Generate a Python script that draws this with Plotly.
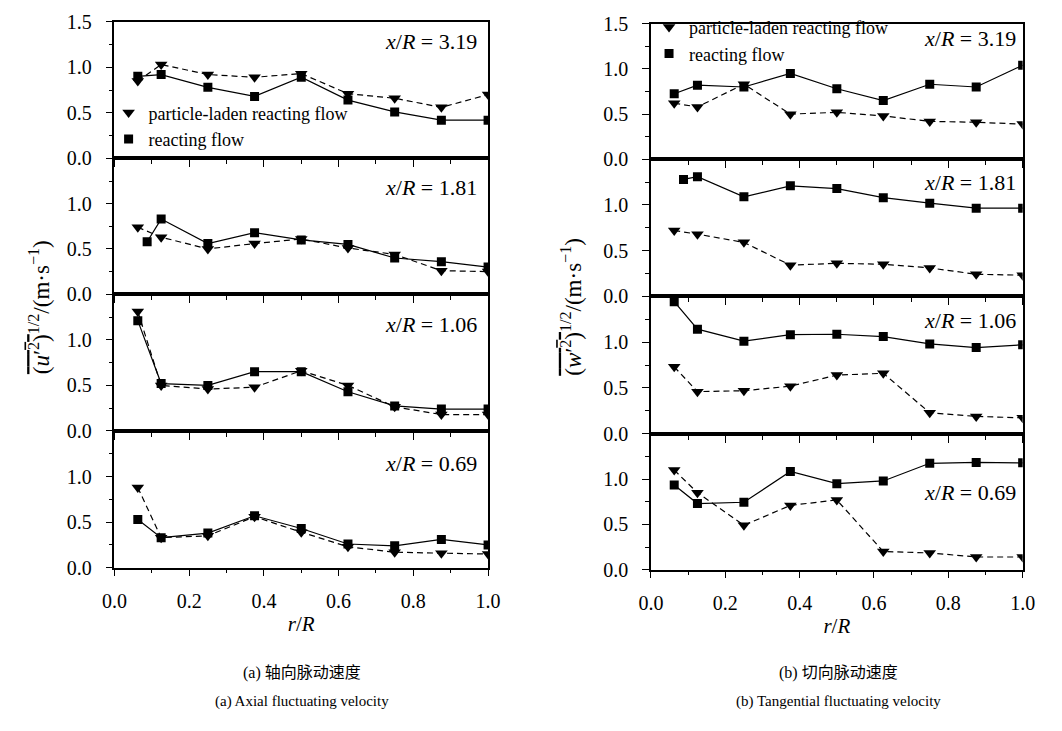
import plotly.graph_objects as go

# ---------------- data ----------------
r_std = [0.0625, 0.125, 0.25, 0.375, 0.5, 0.625, 0.75, 0.875, 1.0]
r_alt = [0.0875, 0.125, 0.25, 0.375, 0.5, 0.625, 0.75, 0.875, 1.0]

stations = ["3.19", "1.81", "1.06", "0.69"]

# axial (u') – particle-laden (triangles) and reacting (squares)
u_pl_319 = [0.85, 1.03, 0.92, 0.89, 0.93, 0.71, 0.66, 0.56, 0.70]
u_rf_319 = [0.90, 0.92, 0.78, 0.68, 0.89, 0.64, 0.51, 0.42, 0.42]
u_pl_181 = [0.74, 0.63, 0.50, 0.56, 0.61, 0.51, 0.44, 0.26, 0.25]
u_rf_181 = [0.58, 0.83, 0.56, 0.68, 0.60, 0.55, 0.40, 0.36, 0.30]
u_pl_106 = [1.31, 0.50, 0.46, 0.48, 0.66, 0.50, 0.265, 0.18, 0.18]
u_rf_106 = [1.21, 0.52, 0.50, 0.65, 0.65, 0.43, 0.275, 0.24, 0.24]
u_pl_069 = [0.88, 0.33, 0.35, 0.56, 0.39, 0.23, 0.17, 0.16, 0.15]
u_rf_069 = [0.53, 0.33, 0.38, 0.57, 0.43, 0.26, 0.24, 0.31, 0.25]

# tangential (w')
w_pl_319 = [0.62, 0.58, 0.83, 0.50, 0.52, 0.48, 0.42, 0.41, 0.39]
w_rf_319 = [0.725, 0.82, 0.80, 0.95, 0.78, 0.65, 0.83, 0.80, 1.04]
w_pl_181 = [0.72, 0.68, 0.59, 0.34, 0.36, 0.35, 0.31, 0.24, 0.23]
w_rf_181 = [1.28, 1.31, 1.09, 1.21, 1.18, 1.08, 1.02, 0.965, 0.965]
w_pl_106 = [0.73, 0.46, 0.47, 0.52, 0.64, 0.66, 0.23, 0.19, 0.175]
w_rf_106 = [1.44, 1.14, 1.01, 1.08, 1.085, 1.06, 0.98, 0.94, 0.97]
w_pl_069 = [1.10, 0.85, 0.49, 0.71, 0.77, 0.20, 0.185, 0.14, 0.14]
w_rf_069 = [0.935, 0.73, 0.745, 1.085, 0.95, 0.98, 1.175, 1.185, 1.18]

x_ticks = [0.0, 0.2, 0.4, 0.6, 0.8, 1.0]
x_minor = [0.1, 0.3, 0.5, 0.7, 0.9]
y_ticks_top = [0.0, 0.5, 1.0, 1.5]
y_ticks = [0.0, 0.5, 1.0]
y_minor = [0.25, 0.75, 1.25]

series_name_pl = "particle-laden reacting flow"
series_name_rf = "reacting flow"

# ---------------- layout geometry ----------------
W, H = 1062, 731
FONT = "Liberation Serif, Noto Sans CJK SC"

def px_x(p):
    return p / W

def px_y(p):
    return 1 - p / H

left_dom = [px_x(104), px_x(487)]
right_dom = [px_x(654), px_x(1035)]
left_rows = [(11, 152), (152, 292), (292, 433), (433, 574)]
right_rows = [(13, 153), (153, 294), (294, 436), (436, 576)]

panels = [
    # (xdomain, rows, row index, pl data, rf data, x for rf, label y, label x)
    (left_dom, left_rows, 0, u_pl_319, u_rf_319, r_std, 1.28, 0.975),
    (left_dom, left_rows, 1, u_pl_181, u_rf_181, r_alt, 1.18, 0.975),
    (left_dom, left_rows, 2, u_pl_106, u_rf_106, r_std, 1.17, 0.975),
    (left_dom, left_rows, 3, u_pl_069, u_rf_069, r_std, 1.14, 0.975),
    (right_dom, right_rows, 0, w_pl_319, w_rf_319, r_std, 1.34, 0.987),
    (right_dom, right_rows, 1, w_pl_181, w_rf_181, r_alt, 1.25, 0.987),
    (right_dom, right_rows, 2, w_pl_106, w_rf_106, r_std, 1.24, 0.987),
    (right_dom, right_rows, 3, w_pl_069, w_rf_069, r_std, 0.85, 0.987),
]

fig = go.Figure()
layout = dict(
    width=W, height=H,
    margin=dict(l=0, r=0, t=0, b=0),
    paper_bgcolor="white", plot_bgcolor="white",
    font=dict(family=FONT, size=18, color="black"),
    showlegend=True,
    annotations=[],
)

for i, (xdom, rows, ri, pl, rf, xrf, ly, lx) in enumerate(panels):
    n = i + 1
    xa = "x" if n == 1 else f"x{n}"
    ya = "y" if n == 1 else f"y{n}"
    top, bot = rows[ri]
    bottom_panel = ri == 3
    legend_id = "legend" if i < 4 else "legend2"

    fig.add_trace(go.Scatter(
        x=r_std, y=pl, xaxis=xa, yaxis=ya, mode="lines+markers",
        line=dict(color="black", width=1.2, dash="6px,4px"),
        marker=dict(symbol="triangle-down", size=11, color="black"),
        showlegend=False, name=series_name_pl))
    fig.add_trace(go.Scatter(
        x=xrf, y=rf, xaxis=xa, yaxis=ya, mode="lines+markers",
        line=dict(color="black", width=1.2),
        marker=dict(symbol="square", size=9, color="black"),
        showlegend=False, name=series_name_rf))

    if ri == 0:
        fig.add_trace(go.Scatter(
            x=[None], y=[None], xaxis=xa, yaxis=ya, mode="markers",
            marker=dict(symbol="triangle-down", size=11, color="black"),
            name=series_name_pl, legend=legend_id))
        fig.add_trace(go.Scatter(
            x=[None], y=[None], xaxis=xa, yaxis=ya, mode="markers",
            marker=dict(symbol="square", size=9, color="black"),
            name=series_name_rf, legend=legend_id))

    xkey = "xaxis" if n == 1 else f"xaxis{n}"
    ykey = "yaxis" if n == 1 else f"yaxis{n}"
    layout[xkey] = dict(
        domain=xdom, range=[0, 1], anchor=ya,
        showline=True, mirror=True, linecolor="black", linewidth=1.5,
        ticks="outside", ticklen=7, tickwidth=1.2, tickcolor="black",
        tickvals=x_ticks, ticktext=[f"{v:.1f}" for v in x_ticks],
        minor=dict(tickvals=x_minor, ticks="outside", ticklen=4,
                   tickwidth=1.2, tickcolor="black", showgrid=False),
        showticklabels=bottom_panel, showgrid=False, zeroline=False,
        tickfont=dict(size=20, family=FONT), ticklabelstandoff=8,
        fixedrange=True,
    )
    if bottom_panel:
        layout[xkey]["title"] = dict(text="<i>r</i>/<i>R</i>",
                                      font=dict(size=21, family=FONT), standoff=5)
    yt = y_ticks_top if ri == 0 else y_ticks
    layout[ykey] = dict(
        domain=[px_y(bot), px_y(top)], range=[0, 1.5], anchor=xa,
        showline=True, mirror=True, linecolor="black", linewidth=1.5,
        ticks="outside", ticklen=7, tickwidth=1.2, tickcolor="black",
        tickvals=yt, ticktext=[f"{v:.1f}\u2002" for v in yt],
        minor=dict(tickvals=y_minor, ticks="outside", ticklen=4,
                   tickwidth=1.2, tickcolor="black", showgrid=False),
        showgrid=False, zeroline=False, tickfont=dict(size=20, family=FONT),
        fixedrange=True,
    )
    layout["annotations"].append(dict(
        x=lx, y=ly, xref=xa, yref=ya, xanchor="right", yanchor="middle",
        text=f"<i>x</i>/<i>R</i> = {stations[ri]}", showarrow=False,
        font=dict(size=22, family=FONT)))

layout["legend"] = dict(
    x=px_x(98), y=px_y(86), xanchor="left", yanchor="top",
    bgcolor="rgba(0,0,0,0)", borderwidth=0, itemwidth=30,
    tracegroupgap=0, font=dict(size=18, family=FONT), itemclick=False)
layout["legend2"] = dict(
    x=px_x(652), y=1.003, xanchor="left", yanchor="top",
    bgcolor="rgba(0,0,0,0)", borderwidth=0, itemwidth=30,
    tracegroupgap=0, font=dict(size=18, family=FONT), itemclick=False)

ylab_u = ("<span style='text-decoration:overline'>(<i>u</i>′<sup>2</sup>)</span>"
          "<sup>1/2</sup>/(m·s<sup>−1</sup>)")
ylab_w = ("<span style='text-decoration:overline'>(<i>w</i>′<sup>2</sup>)</span>"
          "<sup>1/2</sup>/(m·s<sup>−1</sup>)")
layout["annotations"] += [
    dict(x=px_x(28), y=px_y(305), xref="paper", yref="paper", text=ylab_u,
         textangle=-90, showarrow=False, font=dict(size=23, family=FONT),
         xanchor="center", yanchor="middle"),
    dict(x=px_x(573), y=px_y(305), xref="paper", yref="paper", text=ylab_w,
         textangle=-90, showarrow=False, font=dict(size=23, family=FONT),
         xanchor="center", yanchor="middle"),
    dict(x=px_x(296), y=px_y(683), xref="paper", yref="paper",
         text="(a) 轴向脉动速度", showarrow=False,
         font=dict(size=16, family=FONT),
         xanchor="center", yanchor="middle"),
    dict(x=px_x(296), y=px_y(712), xref="paper", yref="paper",
         text="(a) Axial fluctuating velocity", showarrow=False,
         font=dict(size=15, family=FONT), xanchor="center", yanchor="middle"),
    dict(x=px_x(846), y=px_y(683), xref="paper", yref="paper",
         text="(b) 切向脉动速度", showarrow=False,
         font=dict(size=16, family=FONT),
         xanchor="center", yanchor="middle"),
    dict(x=px_x(846), y=px_y(712), xref="paper", yref="paper",
         text="(b) Tangential fluctuating velocity", showarrow=False,
         font=dict(size=15, family=FONT), xanchor="center", yanchor="middle"),
]

fig.update_layout(**layout)
fig.write_html("out.html")
